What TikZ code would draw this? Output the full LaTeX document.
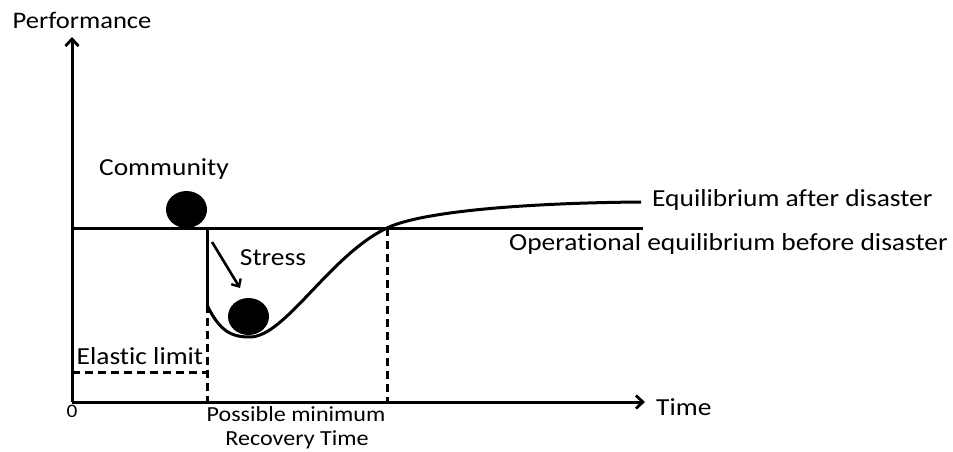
\documentclass[tikz,border=0pt]{standalone}
\usepackage{fontspec}
\setmainfont{Carlito}[FakeStretch=1.12,Ligatures={NoCommon}]
\usetikzlibrary{arrows.meta,shapes.geometric}
\begin{document}
\begin{tikzpicture}[x=1pt,y=-1pt,
  axis/.style={line width=3pt,-{Straight Barb[length=7pt,width=13pt,line width=2.8pt]}},
  thick line/.style={line width=3pt},
  dash line/.style={line width=3pt,dash pattern=on 8pt off 5pt},
  ball/.style={ellipse,fill=black,minimum width=41pt,minimum height=37pt,inner sep=0pt},
  lbl/.style={inner sep=0pt,font=\fontsize{24.5}{28}\selectfont},
]
\useasboundingbox (0,0) rectangle (953,452);
% coordinates
\coordinate (O) at (72,402);
\coordinate (ytip) at (72,37);
\coordinate (xtip) at (645,402);
\coordinate (b0) at (72,228);
\coordinate (b1) at (207,228);
\coordinate (bend) at (643,228);
\coordinate (drop) at (207,305);
\coordinate (min) at (250,337);
\coordinate (cross) at (387,228);
\coordinate (cend) at (641,202);
\coordinate (e0) at (72,372);
\coordinate (e1) at (207,372);
\coordinate (f1) at (207,402);
\coordinate (f2) at (387,402);
\coordinate (s0) at (212,242);
\coordinate (s1) at (240,288);
% axes
\draw[axis] (O) -- (ytip);
\draw[axis] (O) -- (xtip);
% baseline
\draw[thick line] (b0) -- (bend);
% drop and curve
\draw[thick line] (b1) -- (drop);
\draw[thick line] (drop) .. controls (220,332) and (232,337) .. (min)
  .. controls (285,337) and (330,255) .. (cross)
  .. controls (420,212) and (520,203) .. (cend);
% dashed
\draw[dash line] (drop) -- (f1);
\draw[dash line] (cross) -- (f2);
\draw[dash line] (e0) -- (e1);
% stress arrow
\draw[line width=2.6pt,-{Straight Barb[length=6pt,width=11pt,line width=2.4pt]}] (s0) -- (s1);
% balls
\node[ball] (ball1) at (186.5,209.5) {};
\node[ball] (ball2) at (248.5,316.5) {};
% labels
\node[lbl,font=\fontsize{23.7}{27}\selectfont] (perf) at (82,20) {Performance};
\node[lbl] (comm) at (164,169) {Community};
\node[lbl] (stress) at (273,258) {Stress};
\node[lbl,anchor=west] (time) at (656,407) {Time};
\node[lbl,font=\fontsize{19}{22}\selectfont] (zero) at (72,411) {0};
\node[lbl,anchor=west] (eqa) at (652,200) {Equilibrium after disaster};
\node[lbl,anchor=east] (eqb) at (948,244) {Operational equilibrium before disaster};
\node[lbl] (elastic) at (140,356) {Elastic limit};
\node[lbl,font=\fontsize{21.5}{25}\selectfont] (pmin) at (296,414) {Possible minimum};
\node[lbl,font=\fontsize{21.5}{25}\selectfont] (rtime) at (297,440) {Recovery Time};
\end{tikzpicture}
\end{document}
